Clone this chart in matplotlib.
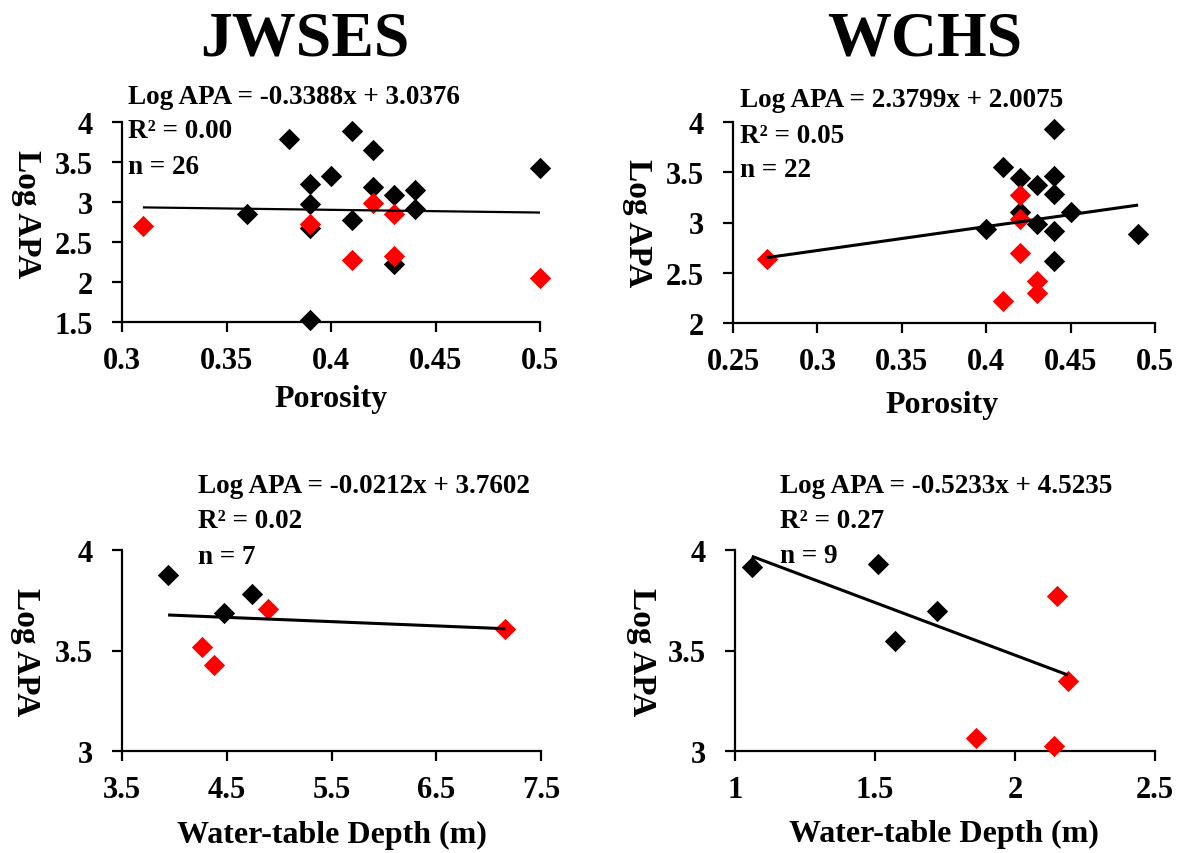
import matplotlib
matplotlib.use("Agg")
import matplotlib.pyplot as plt
from matplotlib.ticker import FixedLocator, FixedFormatter

plt.rcParams['font.family'] = ['Liberation Serif', 'DejaVu Serif']
plt.rcParams['font.weight'] = 'bold'

# ---- JWSES: porosity ----
jw_por_black_x = [0.38, 0.41, 0.42, 0.50, 0.39, 0.40, 0.42, 0.43, 0.44, 0.39, 0.36, 0.44, 0.41, 0.39, 0.43, 0.39]
jw_por_black_y = [3.79, 3.89, 3.65, 3.43, 3.23, 3.33, 3.19, 3.09, 3.15, 2.98, 2.85, 2.91, 2.77, 2.67, 2.23, 1.52]
jw_por_red_x = [0.31, 0.42, 0.43, 0.39, 0.41, 0.43, 0.50]
jw_por_red_y = [2.70, 2.99, 2.85, 2.73, 2.27, 2.32, 2.05]
jw_por_fit = (-0.3388, 3.0376)
jw_por_stats = ["Log APA = -0.3388x + 3.0376", "R\u00b2 = 0.00", "n = 26"]

# ---- WCHS: porosity ----
wc_por_black_x = [0.44, 0.41, 0.42, 0.43, 0.44, 0.44, 0.42, 0.45, 0.40, 0.43, 0.44, 0.49, 0.44]
wc_por_black_y = [3.93, 3.55, 3.44, 3.37, 3.46, 3.28, 3.10, 3.10, 2.94, 2.99, 2.92, 2.89, 2.62]
wc_por_red_x = [0.27, 0.42, 0.42, 0.42, 0.43, 0.43, 0.41]
wc_por_red_y = [2.64, 3.27, 3.03, 2.70, 2.42, 2.30, 2.22]
wc_por_fit = (2.3799, 2.0075)
wc_por_stats = ["Log APA = 2.3799x + 2.0075", "R\u00b2 = 0.05", "n = 22"]

# ---- JWSES: water-table depth ----
jw_wt_black_x = [3.94, 4.74, 4.47]
jw_wt_black_y = [3.875, 3.78, 3.686]
jw_wt_red_x = [4.89, 4.26, 4.38, 7.16]
jw_wt_red_y = [3.706, 3.516, 3.426, 3.607]
jw_wt_fit = (-0.0212, 3.7602)
jw_wt_stats = ["Log APA = -0.0212x + 3.7602", "R\u00b2 = 0.02", "n = 7"]

# ---- WCHS: water-table depth ----
wc_wt_black_x = [1.06, 1.51, 1.57, 1.72]
wc_wt_black_y = [3.916, 3.932, 3.548, 3.697]
wc_wt_red_x = [2.15, 2.19, 1.86, 2.14]
wc_wt_red_y = [3.772, 3.346, 3.063, 3.026]
wc_wt_fit = (-0.5233, 4.5235)
wc_wt_stats = ["Log APA = -0.5233x + 4.5235", "R\u00b2 = 0.27", "n = 9"]

# tick values / labels
por_jw_xticks = [0.3, 0.35, 0.4, 0.45, 0.5]
por_jw_xlabels = ["0.3", "0.35", "0.4", "0.45", "0.5"]
por_jw_yticks = [1.5, 2, 2.5, 3, 3.5, 4]
por_jw_ylabels = ["1.5", "2", "2.5", "3", "3.5", "4"]
por_wc_xticks = [0.25, 0.3, 0.35, 0.4, 0.45, 0.5]
por_wc_xlabels = ["0.25", "0.3", "0.35", "0.4", "0.45", "0.5"]
por_wc_yticks = [2, 2.5, 3, 3.5, 4]
por_wc_ylabels = ["2", "2.5", "3", "3.5", "4"]
wt_jw_xticks = [3.5, 4.5, 5.5, 6.5, 7.5]
wt_jw_xlabels = ["3.5", "4.5", "5.5", "6.5", "7.5"]
wt_wc_xticks = [1, 1.5, 2, 2.5]
wt_wc_xlabels = ["1", "1.5", "2", "2.5"]
wt_yticks = [3, 3.5, 4]
wt_ylabels = ["3", "3.5", "4"]

W, H = 1182, 854
fig = plt.figure(figsize=(W / 100, H / 100), dpi=100)


def px_rect(left, top, right, bottom):
    return [left / W, 1 - bottom / H, (right - left) / W, (bottom - top) / H]


def panel(rect, bx, by, rx, ry, fit, xticks, xlabels, yticks, ylabels, lw):
    ax = fig.add_axes(rect)
    ax.set_xlim(xticks[0], xticks[-1])
    ax.set_ylim(yticks[0], yticks[-1])
    ax.xaxis.set_major_locator(FixedLocator(xticks))
    ax.xaxis.set_major_formatter(FixedFormatter(xlabels))
    ax.yaxis.set_major_locator(FixedLocator(yticks))
    ax.yaxis.set_major_formatter(FixedFormatter(ylabels))
    for s in ("top", "right"):
        ax.spines[s].set_visible(False)
    for s in ("left", "bottom"):
        ax.spines[s].set_linewidth(1.6)
    ax.tick_params(axis="both", direction="out", length=7, width=1.6,
                   labelsize=22)
    ax.tick_params(axis="x", pad=10)
    ax.tick_params(axis="y", pad=14)
    for lab in ax.get_xticklabels() + ax.get_yticklabels():
        lab.set_fontweight("bold")
    ax.scatter(bx, by, marker="D", s=118, color="black", linewidths=0,
               clip_on=False, zorder=3)
    ax.scatter(rx, ry, marker="D", s=118, color="red", linewidths=0,
               clip_on=False, zorder=4)
    allx = list(bx) + list(rx)
    x0, x1 = min(allx), max(allx)
    m, b = fit
    ax.plot([x0, x1], [m * x0 + b, m * x1 + b], color="black", lw=lw,
            zorder=5, solid_capstyle="butt")
    return ax


panel(px_rect(122, 123, 540, 323), jw_por_black_x, jw_por_black_y,
      jw_por_red_x, jw_por_red_y, jw_por_fit,
      por_jw_xticks, por_jw_xlabels, por_jw_yticks, por_jw_ylabels, 1.6)
panel(px_rect(733, 123, 1155, 324), wc_por_black_x, wc_por_black_y,
      wc_por_red_x, wc_por_red_y, wc_por_fit,
      por_wc_xticks, por_wc_xlabels, por_wc_yticks, por_wc_ylabels, 2.2)
panel(px_rect(122, 551, 541, 752), jw_wt_black_x, jw_wt_black_y,
      jw_wt_red_x, jw_wt_red_y, jw_wt_fit,
      wt_jw_xticks, wt_jw_xlabels, wt_yticks, wt_ylabels, 2.2)
panel(px_rect(735, 551, 1155, 752), wc_wt_black_x, wc_wt_black_y,
      wc_wt_red_x, wc_wt_red_y, wc_wt_fit,
      wt_wc_xticks, wt_wc_xlabels, wt_yticks, wt_ylabels, 2.2)


def ftext(x, y, s, **kw):
    fig.text(x / W, 1 - y / H, s, fontweight="bold", **kw)


# column headings
ftext(305, 55, "JWSES", ha="center", va="baseline", fontsize=46)
ftext(925, 55, "WCHS", ha="center", va="baseline", fontsize=46)

# regression statistics
for (x, ys), lines in zip(
        [(128, (104, 138, 174)), (740, (107, 143, 177)),
         (198, (493, 528, 564)), (780, (493, 528, 563))],
        [jw_por_stats, wc_por_stats, jw_wt_stats, wc_wt_stats]):
    for y, s in zip(ys, lines):
        ftext(x, y, s, ha="left", va="baseline", fontsize=19.5)

# axis titles
ftext(26, 214, "Log APA", ha="center", va="center", rotation=270, fontsize=24)
ftext(637, 223, "Log APA", ha="center", va="center", rotation=270, fontsize=24)
ftext(25, 652, "Log APA", ha="center", va="center", rotation=270, fontsize=24)
ftext(641, 652, "Log APA", ha="center", va="center", rotation=270, fontsize=24)
ftext(331, 407, "Porosity", ha="center", va="baseline", fontsize=23)
ftext(942, 413, "Porosity", ha="center", va="baseline", fontsize=23)
ftext(332, 843, "Water-table Depth (m)", ha="center", va="baseline", fontsize=23)
ftext(944, 842, "Water-table Depth (m)", ha="center", va="baseline", fontsize=23)

fig.savefig("out.png", dpi=100)
